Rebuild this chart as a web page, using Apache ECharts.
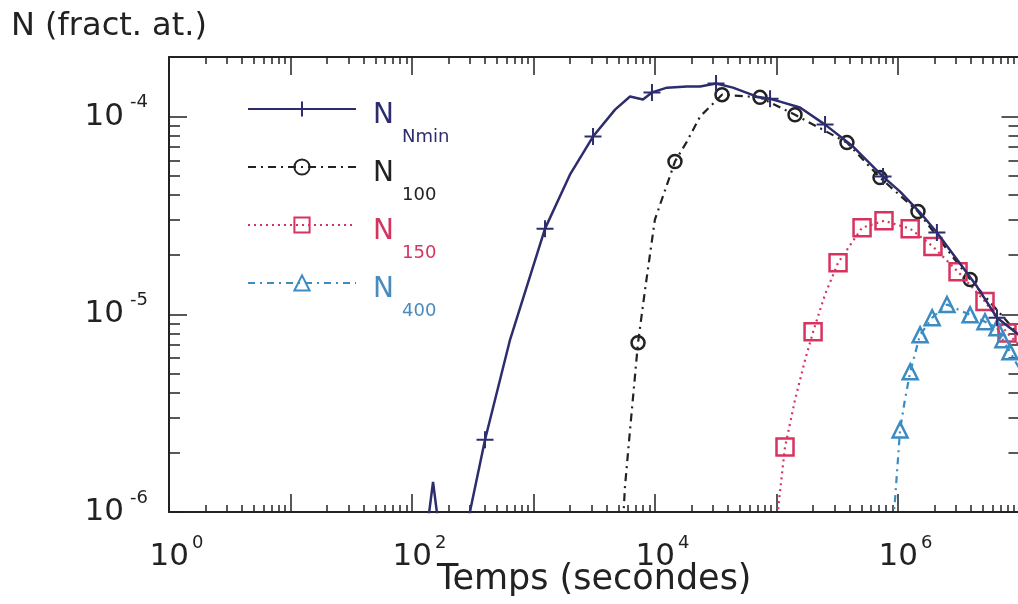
<!DOCTYPE html>
<html>
<head>
<meta charset="utf-8">
<script src="https://cdn.jsdelivr.net/npm/echarts@6/dist/echarts.min.js"></script>
<style>
html,body{margin:0;padding:0;background:#fff;}
#chart{width:1018px;height:604px;}
</style>
</head>
<body>
<div id="chart"></div>
<script>
// ---- data (time in seconds, N in atomic fraction) ----
const T_NMIN = [135.5, 149, 163.7, 289, 399, 641, 1244, 1995, 3090, 4690, 6230, 7960, 9440, 12550, 18300, 23500, 31800, 43800, 69100, 88500, 107000, 156000, 251000, 427000, 753000, 1040000, 1520000, 2090000, 3060000, 4470000, 6530000, 9900000];
const N_NMIN = [9e-7, 1.42e-6, 9e-7, 9e-7, 2.32e-6, 7.43e-6, 2.71e-5, 5.08e-5, 7.92e-5, 1.084e-4, 1.262e-4, 1.22e-4, 1.324e-4, 1.40e-4, 1.42e-4, 1.42e-4, 1.47e-4, 1.40e-4, 1.26e-4, 1.23e-4, 1.19e-4, 1.11e-4, 9.1e-5, 7.05e-5, 4.97e-5, 4.17e-5, 3.27e-5, 2.59e-5, 1.89e-5, 1.38e-5, 9.6e-6, 7.87e-6];
const MARK_NMIN = [0,0,0,0,1,0,1,0,1,0,0,0,1,0,0,0,1,0,0,1,0,0,1,0,1,0,0,1,0,0,1,0];

const T_N100 = [5460, 5660, 6230, 7250, 8280, 9980, 14600, 18300, 23500, 35600, 73100, 142000, 380000, 711000, 1460000, 3920000, 9900000];
const N_N100 = [9e-7, 1.34e-6, 2.60e-6, 7.18e-6, 1.33e-5, 3.01e-5, 5.92e-5, 7.47e-5, 1.0e-4, 1.29e-4, 1.25e-4, 1.02e-4, 7.38e-5, 4.91e-5, 3.31e-5, 1.50e-5, 7.87e-6];
const MARK_N100 = [0,0,0,1,0,0,1,0,0,1,1,1,1,1,1,1,0];

const T_N150 = [101000, 105000, 117500, 142000, 172000, 200000, 251000, 321000, 506000, 767000, 1260000, 1940000, 3120000, 5200000, 7890000, 9900000];
const N_N150 = [9e-7, 1.15e-6, 2.13e-6, 3.69e-6, 5.88e-6, 8.15e-6, 1.26e-5, 1.82e-5, 2.74e-5, 2.97e-5, 2.71e-5, 2.20e-5, 1.64e-5, 1.16e-5, 8.05e-6, 7.0e-6];
const MARK_N150 = [0,0,1,0,0,1,0,1,1,1,1,1,1,1,1,0];

const T_N400 = [910000, 945000, 1040000, 1140000, 1260000, 1520000, 1910000, 2530000, 3920000, 5200000, 6530000, 7310000, 8350000, 9900000];
const N_N400 = [9e-7, 1.15e-6, 2.60e-6, 3.69e-6, 5.12e-6, 7.87e-6, 9.6e-6, 1.12e-5, 9.93e-6, 9.16e-6, 8.55e-6, 7.43e-6, 6.46e-6, 5.36e-6];
const MARK_N400 = [0,0,1,0,1,1,1,1,1,1,1,1,1,0];

const SERIES_NAMES = ['Nmin', 'N100', 'N150', 'N400'];
const SUBSCRIPTS = ['Nmin', '100', '150', '400'];

// ---- axis ticks / labels ----
const X_MAJOR = [1, 10, 100, 1e3, 1e4, 1e5, 1e6, 1e7];
const X_LABELS = [1, 100, 1e4, 1e6];
const Y_MAJOR = [1e-6, 1e-5, 1e-4];
const Y_LABELS = [1e-6, 1e-5, 1e-4];
const X_MIN = 1, X_MAX = 1e7, Y_MIN = 1e-6, Y_MAX = 2e-4;

const X_MINOR = [];
for (let d = 0; d < 7; d++) for (let m = 2; m <= 9; m++) X_MINOR.push(m * Math.pow(10, d));
const Y_MINOR = [];
for (let d = -6; d < -4; d++) for (let m = 2; m <= 9; m++) Y_MINOR.push(m * Math.pow(10, d));

const FONT = 'DejaVu Sans';
const INK = '#222';
const COLORS = ['#2d2d6e', '#222222', '#d7335f', '#3b8cc2'];
const TEXT_COLORS = ['#2d2d6e', '#222222', '#d7335f', '#4a8bbd'];

function mkData(T, N, M) {
  return T.map((t, i) => M[i] ? { value: [t, N[i]] } : { value: [t, N[i]], symbol: 'none' });
}

function expo(v) { return Math.round(Math.log10(v)); }

function xAxisDef(pos, ticks, len, showLine, withLabels) {
  const a = {
    type: 'log', logBase: 10, min: X_MIN, max: X_MAX, position: pos, gridIndex: 0,
    axisLine: { show: showLine, onZero: false, lineStyle: { color: INK, width: 2 } },
    axisTick: { show: true, inside: true, length: len, customValues: ticks, lineStyle: { color: INK, width: 1.5 } },
    axisLabel: { show: false },
    splitLine: { show: false }, minorTick: { show: false }, minorSplitLine: { show: false }
  };
  if (withLabels) {
    a.axisLabel = {
      show: true, customValues: X_LABELS, margin: 22,
      formatter: v => '{sp| }{b|10}{s|' + expo(v) + '}',
      rich: {
        sp: { width: 15, fontSize: 10 },
        b: { fontFamily: FONT, fontSize: 31, lineHeight: 46, color: INK },
        s: { fontFamily: FONT, fontSize: 18, lineHeight: 14, verticalAlign: 'top', color: INK, padding: [0, 0, 0, 3] }
      }
    };
    a.name = 'Temps (secondes)';
    a.nameLocation = 'middle';
    a.nameGap = 50;
    a.nameMoveOverlap = false;
    a.nameTextStyle = { fontFamily: FONT, fontSize: 35, color: INK, verticalAlign: 'top' };
  }
  return a;
}

function yAxisDef(pos, ticks, len, showLine, withLabels) {
  const a = {
    type: 'log', logBase: 10, min: Y_MIN, max: Y_MAX, position: pos, gridIndex: 0,
    axisLine: { show: showLine, onZero: false, lineStyle: { color: INK, width: 2 } },
    axisTick: { show: true, inside: true, length: len, customValues: ticks, lineStyle: { color: INK, width: 1.5 } },
    axisLabel: { show: false },
    splitLine: { show: false }, minorTick: { show: false }, minorSplitLine: { show: false }
  };
  if (withLabels) {
    a.axisLabel = {
      show: true, customValues: Y_LABELS, margin: 21,
      formatter: v => '{b|10}{s|' + expo(v) + '}',
      rich: {
        b: { fontFamily: FONT, fontSize: 31, lineHeight: 46, color: INK },
        s: { fontFamily: FONT, fontSize: 18, lineHeight: 16, verticalAlign: 'top', color: INK, padding: [0, 0, 0, 6] }
      }
    };
  }
  return a;
}

const LEGEND_Y = [118, 176, 234, 292];
const legends = SERIES_NAMES.map((name, i) => ({
  data: [name],
  orient: 'vertical',
  left: 247,
  top: LEGEND_Y[i] - 35,
  padding: 0,
  itemWidth: 108,
  itemHeight: 19,
  selectedMode: false,
  formatter: () => '{e| }\n{p| }{n|N}\n{q| }{s|' + SUBSCRIPTS[i] + '}',
  textStyle: {
    color: TEXT_COLORS[i],
    rich: {
      e: { fontSize: 10, lineHeight: 28 },
      p: { width: 12, fontSize: 10 },
      n: { fontFamily: FONT, fontSize: 28, lineHeight: 28, color: TEXT_COLORS[i] },
      q: { width: 41, fontSize: 10, lineHeight: 14 },
      s: { fontFamily: FONT, fontSize: 18, lineHeight: 14, color: TEXT_COLORS[i] }
    }
  }
}));

const option = {
  animation: false,
  backgroundColor: '#ffffff',
  textStyle: { fontFamily: FONT },
  title: {
    text: 'N (fract. at.)', left: 6, top: 6,
    textStyle: { fontFamily: FONT, fontSize: 32, fontWeight: 'normal', color: INK }
  },
  legend: legends,
  grid: { left: 169, top: 57, width: 850.5, height: 455, containLabel: false, outerBoundsMode: 'none' },
  xAxis: [
    xAxisDef('bottom', X_MAJOR, 18, true, true),
    xAxisDef('bottom', X_MINOR, 7, false, false),
    xAxisDef('top', X_MAJOR, 18, true, false),
    xAxisDef('top', X_MINOR, 7, false, false)
  ],
  yAxis: [
    yAxisDef('left', Y_MAJOR, 18, true, true),
    yAxisDef('left', Y_MINOR, 11, false, false),
    yAxisDef('right', Y_MAJOR, 18, true, false),
    yAxisDef('right', Y_MINOR, 11, false, false)
  ],
  series: [
    {
      name: 'N100', type: 'line', xAxisIndex: 0, yAxisIndex: 0,
      data: mkData(T_N100, N_N100, MARK_N100),
      symbol: 'circle', symbolSize: 13,
      lineStyle: { color: COLORS[1], width: 2.2, type: [8, 5, 2, 5] },
      itemStyle: { color: 'rgba(0,0,0,0)', borderColor: COLORS[1], borderWidth: 2.5 },
      z: 3
    },
    {
      name: 'N150', type: 'line', xAxisIndex: 0, yAxisIndex: 0,
      data: mkData(T_N150, N_N150, MARK_N150),
      symbol: 'rect', symbolSize: 17,
      lineStyle: { color: COLORS[2], width: 2.2, type: [2, 4] },
      itemStyle: { color: 'rgba(0,0,0,0)', borderColor: COLORS[2], borderWidth: 2.5 },
      z: 3
    },
    {
      name: 'N400', type: 'line', xAxisIndex: 0, yAxisIndex: 0,
      data: mkData(T_N400, N_N400, MARK_N400),
      symbol: 'triangle', symbolSize: 15,
      lineStyle: { color: COLORS[3], width: 2.2, type: [7, 5, 2, 5] },
      itemStyle: { color: 'rgba(0,0,0,0)', borderColor: COLORS[3], borderWidth: 2.5 },
      z: 3
    },
    {
      name: 'Nmin', type: 'line', xAxisIndex: 0, yAxisIndex: 0,
      data: mkData(T_NMIN, N_NMIN, MARK_NMIN),
      symbol: 'path://M0,10L20,10M10,0L10,20', symbolSize: 17,
      lineStyle: { color: COLORS[0], width: 2.5, type: 'solid' },
      itemStyle: { color: COLORS[0], borderColor: COLORS[0], borderWidth: 2 },
      z: 4
    }
  ]
};

const chart = echarts.init(document.getElementById('chart'), null, { renderer: 'canvas' });
chart.setOption(option);
</script>
</body>
</html>
